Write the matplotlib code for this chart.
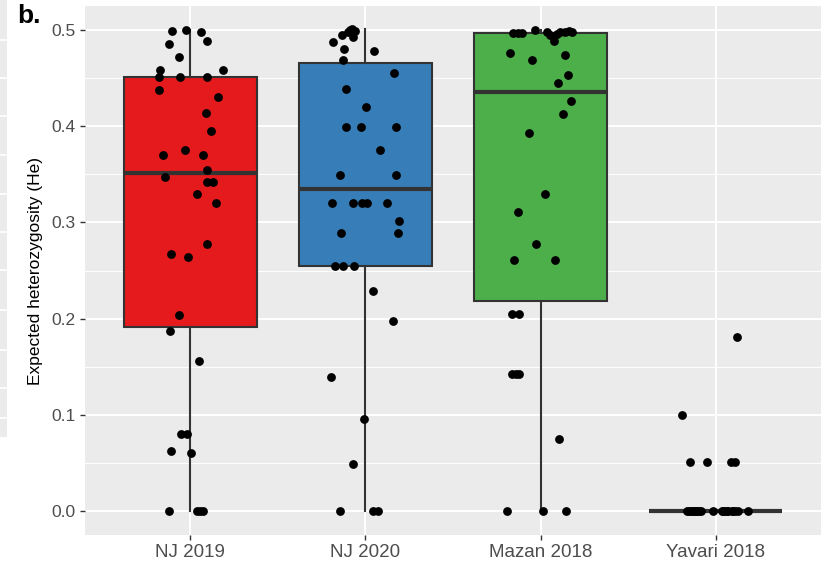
import matplotlib
matplotlib.use("Agg")
import matplotlib.pyplot as plt
import numpy as np

plt.rcParams['font.family'] = ['Liberation Sans', 'DejaVu Sans']

categories = ["NJ 2019", "NJ 2020", "Mazan 2018", "Yavari 2018"]
box_colors = ["#E41A1C", "#377EB8", "#4DAF4A", "#984EA3"]

# He values per population (read from the jittered points)
nj2019_he = [0.4993, 0.500, 0.498, 0.486, 0.489, 0.4715, 0.458, 0.4517, 0.4517, 0.4507,
             0.458, 0.438, 0.430, 0.4135, 0.3955, 0.3753, 0.370, 0.370, 0.355, 0.3476,
             0.342, 0.342, 0.330, 0.3205, 0.278, 0.267, 0.264, 0.2034, 0.187, 0.156,
             0.0802, 0.0802, 0.062, 0.0607, 0.0, 0.0, 0.0, 0.0]
nj2019_jit = [-0.105, -0.023, 0.062, -0.119, 0.096, -0.062, -0.170, -0.176, -0.056, 0.095,
              0.186, -0.178, 0.158, 0.091, 0.118, -0.029, -0.155, 0.075, 0.095, -0.144,
              0.096, 0.129, 0.041, 0.146, 0.096, -0.111, -0.014, -0.065, -0.116, 0.053,
              -0.052, -0.016, -0.111, 0.003, -0.122, 0.038, 0.054, 0.071]

nj2020_he = [0.488, 0.495, 0.498, 0.501, 0.499, 0.493, 0.500, 0.480, 0.478, 0.469,
             0.455, 0.439, 0.4205, 0.399, 0.399, 0.399, 0.375, 0.349, 0.349, 0.3205,
             0.3205, 0.3205, 0.3205, 0.3205, 0.301, 0.289, 0.289, 0.255, 0.255, 0.255,
             0.229, 0.198, 0.139, 0.0958, 0.049, 0.0, 0.0, 0.0]
nj2020_jit = [-0.186, -0.135, -0.097, -0.078, -0.059, -0.068, -0.090, -0.122, 0.051, -0.126,
              0.166, -0.112, 0.004, -0.112, -0.026, 0.175, 0.082, -0.144, 0.177, -0.192,
              -0.068, -0.017, 0.011, 0.126, 0.192, -0.140, 0.188, -0.173, -0.126, -0.064,
              0.046, 0.158, -0.197, -0.006, -0.068, -0.144, 0.046, 0.074]

mazan_he = [0.4969, 0.4969, 0.4969, 0.5003, 0.4976, 0.4948, 0.4889, 0.4958, 0.4976, 0.4982,
            0.4993, 0.4976, 0.476, 0.469, 0.474, 0.453, 0.445, 0.4265, 0.413, 0.393,
            0.330, 0.311, 0.278, 0.261, 0.261, 0.2045, 0.2045, 0.1427, 0.1427, 0.1427,
            0.0747, 0.0, 0.0, 0.0]
mazan_jit = [-0.155, -0.130, -0.107, -0.031, 0.035, 0.054, 0.079, 0.092, 0.111, 0.140,
             0.163, 0.178, -0.174, -0.049, 0.140, 0.155, 0.102, 0.174, 0.130, -0.067,
             0.026, -0.130, -0.024, -0.153, 0.084, -0.164, -0.121, -0.161, -0.143, -0.126,
             0.106, -0.193, 0.016, 0.146]

yavari_he = [0.181, 0.100, 0.0514, 0.0514, 0.0514, 0.0514] + [0.0] * 20
yavari_jit = [0.120, -0.194, -0.147, -0.051, 0.086, 0.110,
              -0.166, -0.155, -0.143, -0.132, -0.124, -0.112, -0.105, -0.095, -0.086, -0.017,
              0.034, 0.042, 0.053, 0.062, 0.072, 0.091, 0.099, 0.110, 0.129, 0.186]

y_ticks = [0.0, 0.1, 0.2, 0.3, 0.4, 0.5]
y_label = "Expected heterozygosity (He)"
panel_tag = "b."

groups = [nj2019_he, nj2020_he, mazan_he, yavari_he]
jitters = [nj2019_jit, nj2020_jit, mazan_jit, yavari_jit]

W, H = 824, 566
fig = plt.figure(figsize=(W / 100, H / 100), dpi=100)
fig.patch.set_facecolor("white")

# fragment of neighbouring panel on the far left
frag = fig.add_axes([0, 1 - 437 / H, 7 / W, 437 / H])
frag.set_facecolor("#EBEBEB")
frag.set_xlim(0, 1)
frag.set_ylim(437, 0)
for yy in [40, 78, 116, 155, 194, 232, 270, 310, 350, 388, 418]:
    frag.axhline(yy, color="white", lw=1.2)
frag.set_xticks([]); frag.set_yticks([])
for s in frag.spines.values():
    s.set_visible(False)

ax = fig.add_axes([85 / W, 1 - 535 / H, (821 - 85) / W, (535 - 6) / H])
ax.set_facecolor("#EBEBEB")
for s in ax.spines.values():
    s.set_visible(False)

positions = np.arange(1, len(categories) + 1)
ax.set_xlim(0.4, len(categories) + 0.6)
ax.set_ylim(-0.025, 0.525)

# grid
for yv in np.arange(0.05, 0.55, 0.1):
    ax.axhline(yv, color="white", lw=0.7, zorder=0)
for yv in y_ticks:
    ax.axhline(yv, color="white", lw=1.4, zorder=0)
for xv in positions:
    ax.axvline(xv, color="white", lw=1.4, zorder=0)

bp = ax.boxplot(groups, positions=positions, widths=0.76, patch_artist=True,
                showfliers=False, whis=1.5, showcaps=False, zorder=2,
                boxprops=dict(edgecolor="#333333", linewidth=1.5),
                whiskerprops=dict(color="#333333", linewidth=1.5),
                medianprops=dict(color="#333333", linewidth=3.0,
                                 solid_capstyle="butt"))
for patch, c in zip(bp["boxes"], box_colors):
    patch.set_facecolor(c)

for i, (vals, jit) in enumerate(zip(groups, jitters)):
    xs = positions[i] + np.array(jit)
    ax.scatter(xs, vals, s=40, color="black", zorder=4, linewidths=0)

ax.set_xticks(positions)
ax.set_xticklabels(categories, fontsize=13.5, color="#4D4D4D")
ax.set_yticks(y_ticks)
ax.set_yticklabels([f"{v:.1f}" for v in y_ticks], fontsize=12.5, color="#4D4D4D")
ax.tick_params(axis="both", length=3.5, width=1.0, color="#333333", pad=3)
ax.set_ylabel(y_label, fontsize=12.5, color="black", labelpad=6)

fig.text(17 / W, 1 - 16 / H, panel_tag, fontsize=19, fontweight="bold",
         ha="left", va="center")

fig.savefig("out.png", dpi=100)
